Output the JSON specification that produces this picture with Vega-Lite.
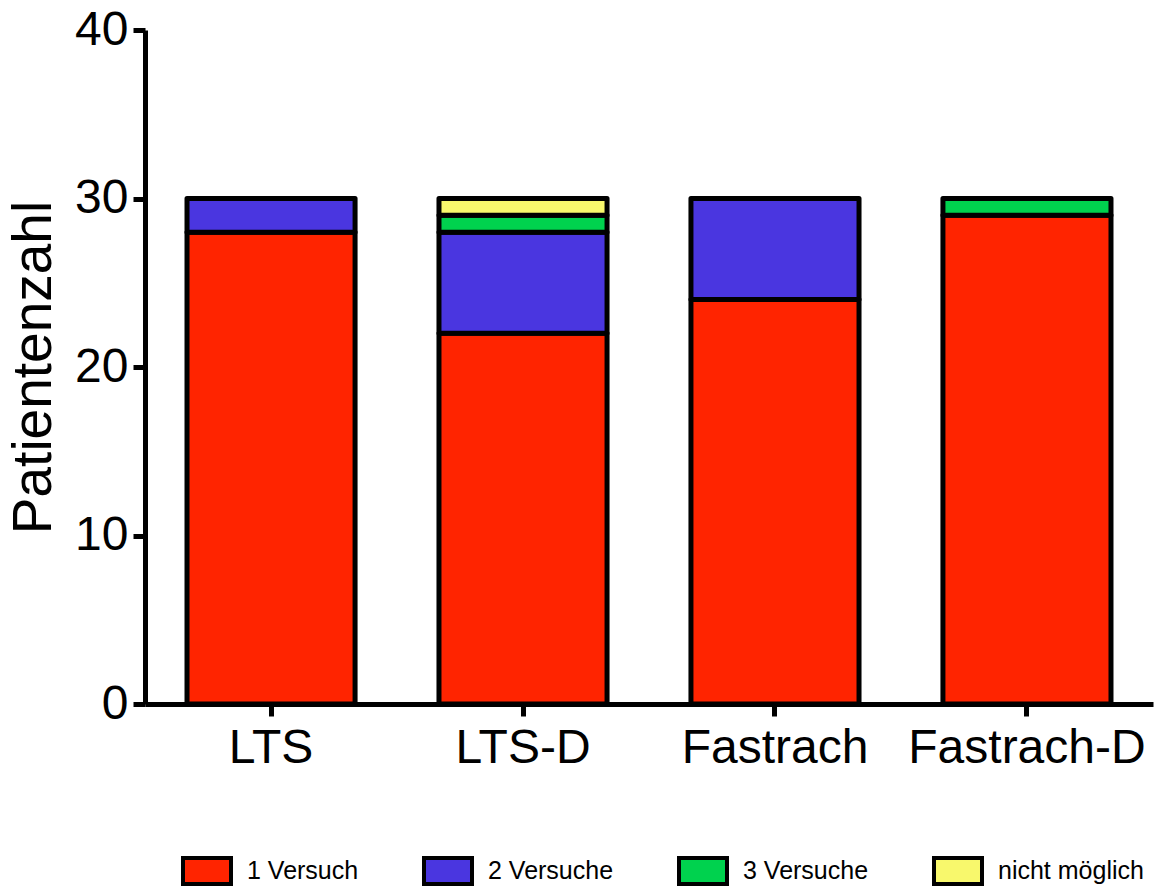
{
  "$schema": "https://vega.github.io/schema/vega-lite/v6.json",
  "autosize": "none",
  "width": 1008,
  "height": 674,
  "padding": {"left": 145, "top": 30, "right": 10, "bottom": 184},
  "background": "white",
  "config": {
    "font": "Liberation Sans",
    "view": {"stroke": null}
  },
  "data": {
    "values": [
      {"gruppe": "LTS", "versuche": "1 Versuch", "ord": 1, "anzahl": 28},
      {"gruppe": "LTS", "versuche": "2 Versuche", "ord": 2, "anzahl": 2},
      {"gruppe": "LTS-D", "versuche": "1 Versuch", "ord": 1, "anzahl": 22},
      {"gruppe": "LTS-D", "versuche": "2 Versuche", "ord": 2, "anzahl": 6},
      {"gruppe": "LTS-D", "versuche": "3 Versuche", "ord": 3, "anzahl": 1},
      {"gruppe": "LTS-D", "versuche": "nicht möglich", "ord": 4, "anzahl": 1},
      {"gruppe": "Fastrach", "versuche": "1 Versuch", "ord": 1, "anzahl": 24},
      {"gruppe": "Fastrach", "versuche": "2 Versuche", "ord": 2, "anzahl": 6},
      {"gruppe": "Fastrach-D", "versuche": "1 Versuch", "ord": 1, "anzahl": 29},
      {"gruppe": "Fastrach-D", "versuche": "3 Versuche", "ord": 3, "anzahl": 1}
    ]
  },
  "mark": {"type": "bar", "stroke": "black", "strokeWidth": 5, "strokeJoin": "round"},
  "encoding": {
    "x": {
      "field": "gruppe",
      "type": "nominal",
      "sort": ["LTS", "LTS-D", "Fastrach", "Fastrach-D"],
      "scale": {"paddingInner": 0.333, "paddingOuter": 0.1667},
      "axis": {
        "title": null,
        "labelAngle": 0,
        "labelFontSize": 48,
        "labelLimit": 0,
        "labelColor": "black",
        "labelPadding": 8,
        "domainColor": "black",
        "domainWidth": 5,
        "tickColor": "black",
        "tickWidth": 5,
        "tickSize": 12
      }
    },
    "y": {
      "field": "anzahl",
      "type": "quantitative",
      "stack": "zero",
      "scale": {"domain": [0, 40], "nice": false},
      "axis": {
        "title": "Patientenzahl",
        "titleFontSize": 55,
        "titleFontWeight": "normal",
        "titleColor": "black",
        "titlePadding": 12,
        "values": [0, 10, 20, 30, 40],
        "grid": false,
        "labelFontSize": 48,
        "labelColor": "black",
        "labelPadding": 5,
        "domainColor": "black",
        "domainWidth": 5,
        "tickColor": "black",
        "tickWidth": 5,
        "tickSize": 12
      }
    },
    "color": {
      "field": "versuche",
      "type": "nominal",
      "scale": {
        "domain": ["1 Versuch", "2 Versuche", "3 Versuche", "nicht möglich"],
        "range": ["#ff2400", "#4a36e0", "#00d24e", "#f8f86c"]
      },
      "legend": {
        "title": null,
        "orient": "none",
        "direction": "horizontal",
        "legendX": 36,
        "legendY": 815,
        "symbolType": "M-1,-0.54L1,-0.54L1,0.54L-1,0.54Z",
        "symbolSize": 2304,
        "symbolStrokeColor": "black",
        "symbolStrokeWidth": 4,
        "symbolOpacity": 1,
        "labelFontSize": 25,
        "labelLimit": 0,
        "labelColor": "black",
        "labelOffset": 14,
        "columnPadding": 57
      }
    },
    "order": {"field": "ord", "type": "quantitative"}
  }
}
